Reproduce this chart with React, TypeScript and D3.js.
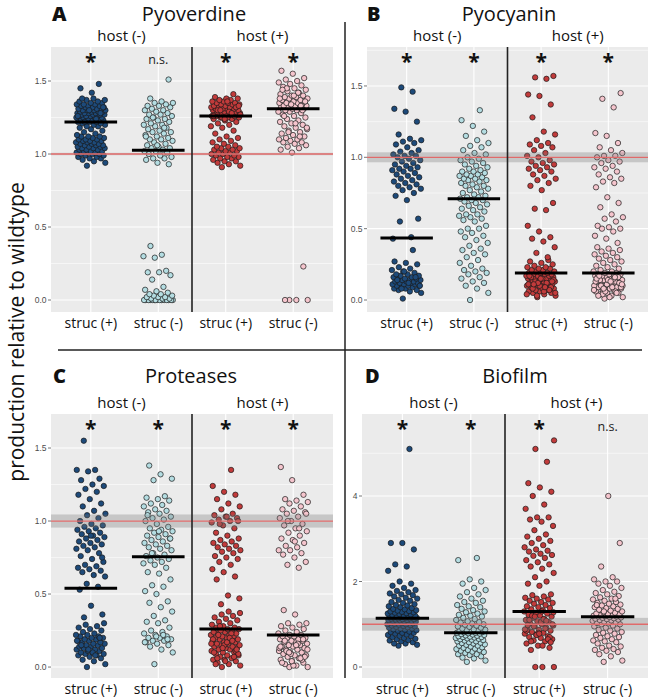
import React from "react";
import * as d3 from "d3";

// ---------- data ----------
const strucLabels = ["struc (+)", "struc (-)", "struc (+)", "struc (-)"];
const hostLabels = ["host (-)", "host (+)"];
const groupColors = ["#1d4a7a", "#b4dde2", "#c23b3b", "#f5c5cd"];
const panelLetters = ["A", "B", "C", "D"];
const panelTitles = ["Pyoverdine", "Pyocyanin", "Proteases", "Biofilm"];
const yAxisTitle = "production relative to wildtype";

// half-width of wildtype reference band (around 1.0)
const refBand = [0.008, 0.035, 0.045, 0.15];

const pyoverdineSig = ["*", "n.s.", "*", "*"];
const pyocyaninSig = ["*", "*", "*", "*"];
const proteasesSig = ["*", "*", "*", "*"];
const biofilmSig = ["*", "*", "*", "n.s."];

const pyoverdine: number[][] = [
  [0.92,0.94,0.95,0.96,0.97,0.97,0.98,0.98,0.99,0.99,1.0,1.0,1.0,1.01,1.01,1.01,1.02,1.02,1.02,1.03,1.03,1.03,1.04,1.04,1.04,1.05,1.05,1.05,1.06,1.06,1.06,1.07,1.07,1.07,1.08,1.08,1.08,1.09,1.09,1.09,1.1,1.1,1.1,1.11,1.11,1.12,1.12,1.12,1.13,1.14,
   1.15,1.16,1.17,1.18,1.19,1.19,1.2,1.2,
   1.21,1.21,1.22,1.22,1.22,1.23,1.23,1.23,1.24,1.24,1.24,1.25,1.25,1.25,1.25,1.26,1.26,1.26,1.26,1.27,1.27,1.27,1.27,1.28,1.28,1.28,1.28,1.29,1.29,1.29,1.29,1.3,1.3,1.3,1.3,1.31,1.31,1.31,1.31,1.32,1.32,1.32,1.33,1.33,1.33,1.34,1.34,1.34,1.35,1.35,1.36,1.36,1.37,1.37,1.38,1.38,1.28,1.3,1.26,1.24,1.22,1.32,
   1.42,1.45,1.48],
  [0,0,0,0,0,0,0,0,0,0,0,0,0,0,0,0.01,0.01,0.01,0.02,0.02,0.02,0.03,0.03,0.04,0.04,0.05,0.06,0.07,0.09,
   0.14,0.17,0.19,0.19,0.2,0.29,0.3,0.31,0.37,
   0.93,0.94,0.96,0.97,0.97,0.98,0.99,1.0,1.01,1.02,1.02,1.03,1.04,1.04,1.05,1.06,1.07,1.08,1.09,1.1,1.1,1.11,1.12,1.13,1.14,1.15,1.15,1.16,1.17,1.18,1.19,1.2,1.2,1.21,1.22,1.23,1.24,1.24,1.25,1.26,1.27,1.27,1.28,1.29,1.3,1.3,1.31,1.32,1.33,1.33,1.34,1.35,1.35,1.36,1.38,1.51,1.06,1.12,1.18,1.25],
  [0.91,0.92,0.93,0.94,0.95,0.95,0.96,0.97,0.97,0.98,0.98,0.99,0.99,1.0,1.0,1.01,1.01,1.02,1.02,1.03,1.03,1.04,1.04,1.05,1.05,1.06,1.07,1.08,1.09,1.1,1.11,1.12,
   1.14,1.16,1.18,1.19,1.2,1.21,1.22,1.23,
   1.24,1.24,1.25,1.25,1.25,1.26,1.26,1.26,1.26,1.27,1.27,1.27,1.27,1.28,1.28,1.28,1.28,1.29,1.29,1.29,1.29,1.3,1.3,1.3,1.3,1.31,1.31,1.31,1.31,1.32,1.32,1.32,1.33,1.33,1.33,1.34,1.34,1.34,1.35,1.35,1.35,1.36,1.36,1.37,1.37,1.38,1.38,1.39,1.41,1.25,1.27,1.29,1.3,1.32,1.24,1.26,1.28,1.3,1.33,1.36],
  [0,0,0,0,0.23,
   1.01,1.03,1.04,1.05,1.06,1.07,1.08,1.08,1.09,1.1,1.1,1.11,1.12,1.13,1.14,1.15,1.16,1.17,1.18,1.19,1.2,1.21,1.22,1.23,1.24,1.25,1.26,1.27,1.28,1.29,1.29,1.3,1.3,1.31,1.31,1.32,1.32,1.32,1.33,1.33,1.33,1.34,1.34,1.35,1.35,1.35,1.36,1.36,1.37,1.37,1.38,1.38,1.39,1.39,1.4,1.4,1.41,1.42,1.43,1.44,1.45,1.46,1.47,1.48,1.49,1.5,1.51,1.52,1.55,1.57,1.12,1.15,1.18,1.21,1.26,1.3,1.34,1.38,1.42,1.45,1.36,1.4,1.44,1.33],
];

const pyocyanin: number[][] = [
  [0.01,0.05,0.06,0.07,0.07,0.08,0.08,0.09,0.09,0.1,0.1,0.1,0.11,0.11,0.11,0.12,0.12,0.12,0.13,0.13,0.13,0.14,0.14,0.14,0.15,0.15,0.15,0.16,0.16,0.17,0.17,0.18,0.18,0.19,0.2,0.21,0.22,0.23,0.25,0.26,0.27,0.35,0.08,0.1,0.12,0.14,0.16,0.2,
   0.43,0.44,
   0.55,0.57,0.7,0.73,0.75,0.77,0.78,0.79,0.8,0.81,0.82,0.83,0.84,0.85,0.86,0.87,0.88,0.89,0.9,0.91,0.92,0.92,0.93,0.94,0.95,0.96,0.97,0.98,0.99,1.0,1.01,1.01,1.02,1.03,1.04,1.05,1.07,1.09,1.1,1.11,1.12,1.13,1.16,1.25,1.32,1.34,1.46,1.49],
  [0.0,0.05,0.08,0.1,0.12,0.13,0.15,0.16,0.18,0.19,0.2,0.21,0.22,0.24,0.26,0.28,0.3,0.32,0.33,0.35,0.36,0.38,0.4,0.42,0.44,0.45,0.47,0.48,0.5,0.5,0.52,0.55,0.56,0.57,0.58,0.59,0.6,0.6,0.62,0.63,0.64,0.65,0.66,0.67,0.68,0.69,0.7,0.7,0.71,0.72,0.72,0.73,0.74,0.75,0.76,0.77,0.78,0.79,0.8,0.8,0.81,0.82,0.83,0.84,0.84,0.85,0.85,0.86,0.87,0.87,0.88,0.88,0.89,0.9,0.9,0.91,0.92,0.93,0.94,0.95,0.96,0.97,0.98,0.99,1.0,1.02,1.03,1.05,1.07,1.08,1.1,1.12,1.15,1.18,1.22,1.26,1.33],
  [0.02,0.03,0.04,0.05,0.05,0.06,0.06,0.07,0.07,0.08,0.08,0.09,0.09,0.1,0.1,0.1,0.11,0.11,0.12,0.12,0.12,0.13,0.13,0.13,0.14,0.14,0.14,0.15,0.15,0.15,0.16,0.16,0.16,0.17,0.17,0.17,0.18,0.18,0.18,0.19,0.19,0.19,0.2,0.2,0.21,0.21,0.22,0.22,0.23,0.23,0.24,0.25,0.26,0.27,0.28,
   0.03,0.05,0.06,0.08,0.09,0.1,0.11,0.12,0.13,0.14,0.15,0.16,0.07,0.12,0.04,0.09,0.11,0.13,0.15,0.17,
   0.3,0.33,0.37,0.41,0.43,0.44,0.48,0.52,0.63,0.64,0.68,
   0.77,0.8,0.82,0.84,0.85,0.87,0.88,0.9,0.91,0.92,0.93,0.94,0.95,0.96,0.97,0.98,1.0,1.01,1.03,1.05,1.07,1.08,1.09,1.1,1.12,1.16,1.18,1.28,1.37,1.43,1.44,1.55,1.56,1.57],
  [0.01,0.02,0.03,0.04,0.05,0.05,0.06,0.07,0.07,0.08,0.08,0.09,0.09,0.1,0.1,0.11,0.11,0.12,0.12,0.13,0.13,0.14,0.14,0.15,0.15,0.16,0.16,0.17,0.17,0.17,0.18,0.18,0.18,0.19,0.19,0.2,0.2,0.21,0.22,0.23,0.24,0.25,0.26,0.27,0.28,0.29,0.3,0.31,0.32,0.33,0.34,0.35,0.36,0.37,0.06,0.08,0.1,0.12,0.14,0.16,0.11,0.13,0.15,0.04,0.09,
   0.02,0.03,0.05,0.06,0.07,0.09,0.1,0.12,0.14,0.15,0.16,0.08,0.11,0.13,0.17,
   0.4,0.43,0.45,0.48,0.5,0.5,0.51,0.52,0.55,0.57,0.58,0.6,0.65,0.68,0.72,
   0.79,0.82,0.83,0.85,0.86,0.88,0.9,0.92,0.93,0.94,0.96,0.97,0.98,1.0,1.01,1.01,1.03,1.05,1.07,1.1,1.15,1.17,1.35,1.41,1.45],
];

const proteases: number[][] = [
  [0.0,0.02,0.04,0.05,0.06,0.07,0.08,0.08,0.09,0.09,0.1,0.1,0.11,0.11,0.12,0.12,0.13,0.13,0.14,0.14,0.15,0.15,0.16,0.16,0.17,0.17,0.18,0.18,0.19,0.19,0.2,0.2,0.21,0.21,0.22,0.22,0.23,0.24,0.25,0.26,0.27,0.28,0.29,0.3,0.1,0.15,0.2,0.12,0.18,0.08,
   0.34,0.36,0.42,0.53,0.55,0.57,
   0.62,0.63,0.65,0.66,0.67,0.68,0.69,0.7,0.72,0.74,0.76,0.78,0.8,0.81,0.82,0.83,0.84,0.85,0.86,0.87,0.88,0.89,0.9,0.91,0.92,0.93,0.94,0.95,0.96,0.97,0.98,1.0,1.02,1.04,1.05,1.07,1.1,1.12,1.15,1.18,1.2,1.22,1.24,1.25,1.28,1.29,1.34,1.35,1.35,1.55,0.75,0.9],
  [0.02,0.1,0.12,0.14,0.15,0.16,0.17,0.18,0.18,0.19,0.2,0.2,0.21,0.22,0.23,0.24,0.25,0.27,0.3,0.31,0.32,0.35,0.38,0.41,0.44,0.45,0.5,0.52,0.55,0.56,0.6,0.64,0.65,0.68,0.7,0.71,0.72,0.73,0.74,0.75,0.76,0.77,0.78,0.8,0.81,0.82,0.83,0.84,0.85,0.86,0.87,0.88,0.89,0.9,0.91,0.92,0.93,0.94,0.95,0.96,0.98,1.0,1.01,1.02,1.03,1.05,1.06,1.07,1.08,1.1,1.11,1.12,1.14,1.15,1.16,1.17,1.28,1.29,1.32,1.38,0.19,0.21,0.17,0.22,0.78,0.88,0.93,1.04],
  [0.0,0.01,0.02,0.03,0.04,0.05,0.05,0.06,0.07,0.08,0.08,0.09,0.1,0.1,0.11,0.12,0.12,0.13,0.13,0.14,0.14,0.15,0.15,0.16,0.16,0.17,0.17,0.18,0.18,0.19,0.19,0.2,0.2,0.21,0.21,0.22,0.22,0.23,0.23,0.24,0.24,0.25,0.25,0.26,0.26,0.27,0.27,0.28,0.29,0.3,0.31,0.32,0.33,0.34,0.35,0.36,0.37,0.38,0.06,0.11,0.15,0.19,0.23,0.28,0.09,0.17,
   0.02,0.07,0.13,0.16,0.2,0.22,0.12,0.04,0.1,0.18,
   0.43,0.47,0.49,
   0.6,0.62,0.65,0.67,0.7,0.72,0.74,0.75,0.76,0.78,0.79,0.8,0.81,0.82,0.83,0.84,0.85,0.86,0.87,0.88,0.9,0.92,0.95,0.97,0.99,1.0,1.01,1.02,1.03,1.04,1.05,1.08,1.1,1.12,1.15,1.18,1.2,1.24,1.35,0.98,1.0,1.03],
  [0.0,0.0,0.01,0.02,0.03,0.04,0.05,0.06,0.07,0.08,0.08,0.09,0.1,0.1,0.11,0.12,0.12,0.13,0.14,0.14,0.15,0.15,0.16,0.17,0.17,0.18,0.18,0.19,0.19,0.2,0.2,0.21,0.21,0.22,0.22,0.23,0.24,0.25,0.26,0.27,0.28,0.29,0.3,0.3,0.36,0.39,0.05,0.09,0.13,0.16,0.11,0.07,
   0.01,0.03,0.06,0.1,0.12,0.15,0.18,0.19,0.04,0.14,
   0.68,0.7,0.72,0.75,0.77,0.78,0.8,0.8,0.82,0.83,0.85,0.87,0.88,0.9,0.92,0.93,0.95,0.97,0.98,1.0,1.02,1.03,1.05,1.06,1.07,1.08,1.1,1.12,1.13,1.14,1.15,1.18,1.28,1.37,0.95,1.0,1.05,0.86],
];

const biofilm: number[][] = [
  [0.5,0.52,0.55,0.55,0.58,0.6,0.62,0.63,0.65,0.66,0.68,0.7,0.72,0.73,0.75,0.76,0.78,0.8,0.8,0.82,0.83,0.85,0.86,0.87,0.88,0.9,0.9,0.92,0.93,0.94,0.95,0.96,0.97,0.98,0.99,1.0,1.0,1.01,1.02,1.03,1.04,1.05,1.05,1.06,1.07,1.08,1.08,1.09,1.1,1.1,1.11,1.12,1.12,1.13,1.14,1.14,1.15,1.15,1.16,1.17,1.17,1.18,1.19,1.2,1.2,1.21,1.22,1.23,1.24,1.25,1.26,1.27,1.28,1.29,1.3,1.31,1.32,1.33,1.35,1.36,1.38,1.4,1.42,1.44,1.45,1.47,1.5,1.52,1.55,1.57,1.6,1.62,1.65,1.68,1.7,1.72,1.75,1.78,1.8,1.85,1.9,1.95,2.0,2.25,2.35,2.4,2.75,2.9,2.9,5.1],
  [0.12,0.15,0.2,0.22,0.25,0.28,0.3,0.3,0.33,0.35,0.36,0.38,0.4,0.4,0.42,0.43,0.45,0.46,0.48,0.5,0.5,0.52,0.53,0.55,0.56,0.57,0.58,0.6,0.6,0.62,0.63,0.64,0.65,0.66,0.67,0.68,0.69,0.7,0.7,0.71,0.72,0.73,0.74,0.75,0.76,0.77,0.78,0.79,0.8,0.8,0.81,0.82,0.83,0.84,0.85,0.86,0.87,0.88,0.9,0.92,0.94,0.95,0.97,0.99,1.0,1.02,1.04,1.05,1.07,1.1,1.12,1.15,1.18,1.2,1.22,1.25,1.28,1.3,1.33,1.36,1.4,1.42,1.45,1.5,1.52,1.55,1.6,1.65,1.7,1.75,1.8,1.85,1.95,2.0,2.05,2.5,2.55],
  [0,0,0,0.4,0.45,0.5,0.55,0.6,0.62,0.65,0.68,0.7,0.72,0.75,0.78,0.8,0.82,0.85,0.87,0.9,0.92,0.95,0.97,1.0,1.02,1.05,1.07,1.1,1.12,1.15,1.18,1.2,1.22,1.25,1.27,1.3,1.33,1.35,1.38,1.4,1.42,1.45,1.48,1.5,1.52,1.55,1.58,1.6,1.62,1.65,1.68,1.7,1.9,1.95,2.0,2.1,2.2,2.3,2.35,2.4,2.45,2.5,2.55,2.6,2.62,2.65,2.7,2.72,2.75,2.8,2.85,2.9,2.95,3.0,3.05,3.1,3.2,3.3,3.4,3.45,3.5,3.5,3.7,3.8,4.0,4.1,4.2,4.3,4.8,5.1,5.3,
   0.5,0.6,0.7,0.8,0.85,0.9,0.95,1.0,1.05,1.1,0.65,0.75,0.88,1.12,1.2,0.58,0.78,0.98,1.08,1.18,1.28,1.3],
  [0.12,0.15,0.25,0.3,0.35,0.38,0.4,0.42,0.45,0.48,0.5,0.55,0.58,0.6,0.62,0.65,0.68,0.7,0.72,0.75,0.78,0.8,0.82,0.85,0.87,0.9,0.92,0.95,0.97,1.0,1.0,1.02,1.03,1.05,1.06,1.08,1.09,1.1,1.11,1.12,1.13,1.14,1.15,1.16,1.17,1.18,1.18,1.19,1.2,1.21,1.22,1.23,1.24,1.25,1.27,1.28,1.3,1.32,1.34,1.36,1.38,1.4,1.42,1.44,1.46,1.48,1.5,1.52,1.55,1.58,1.6,1.63,1.66,1.7,1.73,1.76,1.8,1.85,1.9,1.95,2.0,2.0,2.05,2.1,2.35,2.9,4.0,1.45,1.6,1.3],
];

const majorTicksSmall = [0, 0.5, 1.0, 1.5];
const minorTicksSmall = [0.25, 0.75, 1.25, 1.75];
const majorTicksBiofilm = [0, 2, 4];
const minorTicksBiofilm = [1, 3, 5];

// ---------- layout ----------
type Panel = {
  data: number[][];
  sig: string[];
  band: number;
  letter: string;
  title: string;
  left: number; right: number; top: number; bottom: number;
  domain: [number, number];
  major: number[]; minor: number[];
  tickFmt: (v: number) => string;
  titleX: number; letterX: number; titleY: number;
  hostY: number; labelY: number; sigY: number;
};

const fmt1 = d3.format(".1f");
const fmt0 = d3.format("d");

const panels: Panel[] = [
  { data: pyoverdine, sig: pyoverdineSig, band: refBand[0], letter: panelLetters[0], title: panelTitles[0],
    left: 51, right: 333, top: 47, bottom: 312, domain: [-0.082, 1.733], major: majorTicksSmall, minor: minorTicksSmall, tickFmt: fmt1,
    titleX: 194, letterX: 52, titleY: 21, hostY: 41, labelY: 328, sigY: 60 },
  { data: pyocyanin, sig: pyocyaninSig, band: refBand[1], letter: panelLetters[1], title: panelTitles[1],
    left: 367, right: 648, top: 47, bottom: 312, domain: [-0.084, 1.773], major: majorTicksSmall, minor: minorTicksSmall, tickFmt: fmt1,
    titleX: 509, letterX: 367, titleY: 21, hostY: 41, labelY: 328, sigY: 60 },
  { data: proteases, sig: proteasesSig, band: refBand[2], letter: panelLetters[2], title: panelTitles[2],
    left: 51, right: 333, top: 414, bottom: 678, domain: [-0.075, 1.733], major: majorTicksSmall, minor: minorTicksSmall, tickFmt: fmt1,
    titleX: 191, letterX: 53, titleY: 383, hostY: 408, labelY: 694, sigY: 427 },
  { data: biofilm, sig: biofilmSig, band: refBand[3], letter: panelLetters[3], title: panelTitles[3],
    left: 362, right: 648, top: 414, bottom: 678, domain: [-0.257, 5.918], major: majorTicksBiofilm, minor: minorTicksBiofilm, tickFmt: fmt0,
    titleX: 515, letterX: 365, titleY: 383, hostY: 408, labelY: 694, sigY: 427 },
];

const FONT = "'Open Sans', 'Noto Sans', sans-serif";
const jitter = (i: number) => ((i * 0.6180339887 + 0.37) % 1) - 0.5;

function PanelView({ p }: { p: Panel }) {
  const cats = ["c0", "c1", "c2", "c3"];
  const x = d3.scalePoint<string>().domain(cats).range([p.left, p.right]).padding(0.59);
  const y = d3.scaleLinear().domain(p.domain).range([p.bottom, p.top]);
  const step = x.step();
  const divX = ((x("c1") as number) + (x("c2") as number)) / 2;
  const medW = step * 0.39;
  return (
    <g>
      <rect x={p.left} y={p.top} width={p.right - p.left} height={p.bottom - p.top} fill="#ebebeb" />
      {p.minor.filter((v) => y(v) > p.top && y(v) < p.bottom).map((v) => (
        <line key={"mi" + v} x1={p.left} x2={p.right} y1={y(v)} y2={y(v)} stroke="#fff" strokeWidth={0.55} />
      ))}
      {p.major.map((v) => (
        <line key={"ma" + v} x1={p.left} x2={p.right} y1={y(v)} y2={y(v)} stroke="#fff" strokeWidth={1.1} />
      ))}
      {cats.map((c) => (
        <line key={"vg" + c} x1={x(c)} x2={x(c)} y1={p.top} y2={p.bottom} stroke="#fff" strokeWidth={1.1} />
      ))}
      {p.data.map((vals, gi) => (
        <g key={"g" + gi}>
          {vals.map((v, i) => (
            <circle key={i} cx={(x(cats[gi]) as number) + jitter(i) * step * 0.44} cy={y(v)} r={2.7}
              fill={groupColors[gi]} stroke="#1a1a1a" strokeWidth={0.7} />
          ))}
        </g>
      ))}
      <rect x={p.left} width={p.right - p.left} y={y(1 + p.band)} height={y(1 - p.band) - y(1 + p.band)} fill="#7a7a7a" fillOpacity={0.32} />
      <line x1={p.left} x2={p.right} y1={y(1)} y2={y(1)} stroke="#e06a6a" strokeWidth={1.3} />
      {p.data.map((vals, gi) => {
        const m = d3.median(vals) as number;
        const cx = x(cats[gi]) as number;
        return <line key={"md" + gi} x1={cx - medW} x2={cx + medW} y1={y(m)} y2={y(m)} stroke="#000" strokeWidth={3} />;
      })}
      <line x1={divX} x2={divX} y1={p.top} y2={p.bottom} stroke="#222" strokeWidth={1.6} />
      {p.major.map((v) => (
        <g key={"t" + v}>
          <line x1={p.left - 3} x2={p.left} y1={y(v)} y2={y(v)} stroke="#555" strokeWidth={0.8} />
          <text x={p.left - 4.5} y={y(v) + 3} textAnchor="end" fontSize={8.5} fill="#4d4d4d" fontFamily="'Liberation Sans', Arial, sans-serif">{p.tickFmt(v)}</text>
        </g>
      ))}
      {p.sig.map((s, gi) => (
        s === "*" ? (
          <text key={"s" + gi} x={x(cats[gi])} y={p.sigY + 9} textAnchor="middle" fontSize={21} fontWeight={700} fontFamily={FONT} fill="#111">*</text>
        ) : (
          <text key={"s" + gi} x={x(cats[gi])} y={p.sigY + 4} textAnchor="middle" fontSize={12.5} fontFamily={FONT} fill="#222">{s}</text>
        )
      ))}
      {strucLabels.map((l, gi) => (
        <text key={"xl" + gi} x={x(cats[gi])} y={p.labelY} textAnchor="middle" fontSize={14} fontFamily={FONT} fill="#111">{l}</text>
      ))}
      <text x={(p.left + divX) / 2} y={p.hostY} textAnchor="middle" fontSize={15} fontFamily={FONT} fill="#111">{hostLabels[0]}</text>
      <text x={(divX + p.right) / 2} y={p.hostY} textAnchor="middle" fontSize={15} fontFamily={FONT} fill="#111">{hostLabels[1]}</text>
      <text x={p.titleX} y={p.titleY} textAnchor="middle" fontSize={20} fontFamily={FONT} fill="#111">{p.title}</text>
      <text x={p.letterX} y={p.titleY} fontSize={20} fontWeight={800} fontFamily={FONT} fill="#111">{p.letter}</text>
    </g>
  );
}

export default function App() {
  return (
    <svg width={650} height={698} style={{ position: "absolute", left: 0, top: 0, background: "#fff" }}>
      <rect x={0} y={0} width={650} height={698} fill="#fff" />
      <line x1={345} x2={345} y1={22} y2={678} stroke="#222" strokeWidth={1.5} />
      <line x1={58} x2={642} y1={350} y2={350} stroke="#222" strokeWidth={1.5} />
      {panels.map((p, i) => <PanelView key={i} p={p} />)}
      <text transform="translate(24,332) rotate(-90)" textAnchor="middle" fontSize={21} fontFamily={FONT} fill="#111">{yAxisTitle}</text>
    </svg>
  );
}
